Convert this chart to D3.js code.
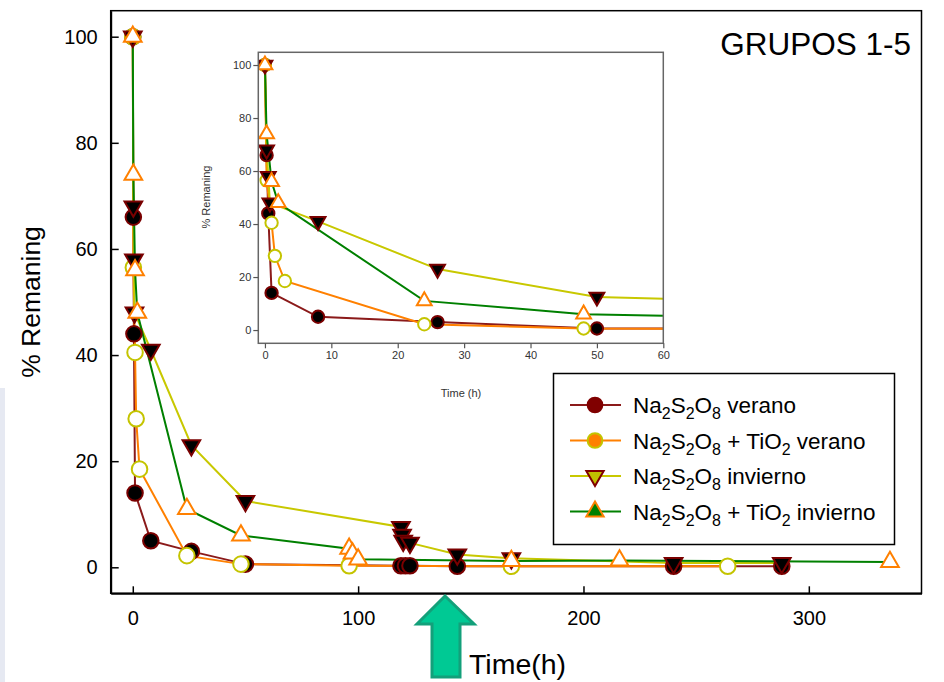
<!DOCTYPE html>
<html>
<head>
<meta charset="utf-8">
<script src="https://cdn.jsdelivr.net/npm/d3@7"></script>
<style>
  body { margin: 0; background: #fff; }
  svg { display: block; font-family: 'Liberation Sans', Arial, sans-serif; }
</style>
</head>
<body>
<script>
// values
const verT = [0, 0.25, 0.5, 1, 8, 26, 50, 119, 121, 123, 144, 240, 288]
const verV = [100, 66, 44, 14, 5, 3, 0.6, 0.3, 0.3, 0.3, 0.2, 0.2, 0.2]
const tioVerT = [0, 0.25, 1, 1.5, 3, 24, 48, 96, 168, 264]
const tioVerV = [100, 56.5, 40.5, 28, 18.5, 2.2, 0.6, 0.3, 0.2, 0.2]
const invT = [0, 0.25, 0.5, 0.75, 8, 26, 50, 119, 119.5, 120, 123, 144, 168, 240, 288]
const invV = [100, 68, 58, 48, 41, 23, 12.5, 7.6, 6.1, 5, 4.6, 2.4, 1.7, 0.8, 0.8]
const tioInvT = [0, 0.25, 1, 2, 24, 48, 96, 97.5, 100, 168, 216, 336]
const tioInvV = [100, 74, 56, 48, 11, 6, 3.5, 2.6, 1.5, 1.2, 1.3, 1.0]

const xTicks = [0, 100, 200, 300]
const yTicks = [0, 20, 40, 60, 80, 100]
const insetXTicks = [0, 10, 20, 30, 40, 50, 60]
const insetYTicks = [0, 20, 40, 60, 80, 100]

const legendLabels = [
  [['Na'], ['2', 1], ['S'], ['2', 1], ['O'], ['8', 1], [' verano']],
  [['Na'], ['2', 1], ['S'], ['2', 1], ['O'], ['8', 1], [' + TiO'], ['2', 1], [' verano']],
  [['Na'], ['2', 1], ['S'], ['2', 1], ['O'], ['8', 1], [' invierno']],
  [['Na'], ['2', 1], ['S'], ['2', 1], ['O'], ['8', 1], [' + TiO'], ['2', 1], [' invierno']]
]

const series = [
  { t: verT, v: verV, line: '#8b1a1a', shape: d3.symbolCircle, rot: 0, fill: '#000', stroke: '#7a0000', lfill: '#800000', lstroke: '#800000' },
  { t: tioVerT, v: tioVerV, line: '#ff8000', shape: d3.symbolCircle, rot: 0, fill: '#fff', stroke: '#c4c400', lfill: '#ff8000', lstroke: '#c4c400' },
  { t: invT, v: invV, line: '#c8c800', shape: d3.symbolTriangle, rot: 180, fill: '#000', stroke: '#7a0000', lfill: '#c0c000', lstroke: '#800000' },
  { t: tioInvT, v: tioInvV, line: '#008000', shape: d3.symbolTriangle, rot: 0, fill: '#fff', stroke: '#ff8000', lfill: '#008000', lstroke: '#ff8000' }
]

const svg = d3.select('body').append('svg')
  .attr('width', 944)
  .attr('height', 682)

svg.append('rect')
  .attr('x', 0).attr('y', 388).attr('width', 5).attr('height', 294)
  .style('fill', '#e6e9f2')

// main chart
const x = d3.scaleLinear().domain([-9.8, 350]).range([110.7, 921.5])
const y = d3.scaleLinear().domain([-4.9, 104.9]).range([593.3, 10.7])

svg.append('rect')
  .attr('x', x.range()[0]).attr('y', y.range()[1])
  .attr('width', x.range()[1] - x.range()[0])
  .attr('height', y.range()[0] - y.range()[1])
  .style('fill', 'none').style('stroke', '#000').style('stroke-width', 1.5)

const yAxis = svg.append('g')
  .attr('transform', `translate(${x.range()[0]}, 0)`)
  .call(d3.axisLeft(y).tickValues(yTicks).tickSize(-8).tickSizeOuter(0).tickPadding(13))
const xAxis = svg.append('g')
  .attr('transform', `translate(0, ${y.range()[0]})`)
  .call(d3.axisBottom(x).tickValues(xTicks).tickSize(-7).tickSizeOuter(0).tickPadding(18))

;[xAxis, yAxis].forEach(a => {
  a.select('.domain').style('stroke', '#000').style('stroke-width', 2)
  a.selectAll('.tick line').style('stroke', '#000').style('stroke-width', 1.5)
  a.selectAll('.tick text').style('font-size', '20px').style('fill', '#000')
    .style('font-family', "'Liberation Sans', Arial, sans-serif")
})

svg.append('text')
  .attr('transform', 'translate(40, 302) rotate(-90)')
  .style('text-anchor', 'middle')
  .style('font-size', '26.5px')
  .text('% Remaning')

svg.append('text')
  .attr('x', 911).attr('y', 55)
  .style('text-anchor', 'end')
  .style('font-size', '31.5px')
  .text('GRUPOS 1-5')

function drawSeries (g, xs, ys, circleSize, triSize, width) {
  series.forEach(s => {
    const pts = s.t.map((t, i) => [t, s.v[i]])
    g.append('path')
      .datum(pts)
      .attr('d', d3.line().x(d => xs(d[0])).y(d => ys(d[1])))
      .style('fill', 'none')
      .style('stroke', s.line)
      .style('stroke-width', width)
  })
  series.forEach(s => {
    const pts = s.t.map((t, i) => [t, s.v[i]])
    const sym = d3.symbol().type(s.shape).size(s.shape === d3.symbolCircle ? circleSize : triSize)
    g.selectAll(null)
      .data(pts)
      .enter().append('path')
      .attr('d', sym)
      .attr('transform', d => `translate(${xs(d[0])}, ${ys(d[1])}) rotate(${s.rot})`)
      .style('fill', s.fill)
      .style('stroke', s.stroke)
      .style('stroke-width', 2)
  })
}

drawSeries(svg.append('g'), x, y, 190, 135, 2)

// legend
const legend = svg.append('g')
legend.append('rect')
  .attr('x', 553.5).attr('y', 373.5).attr('width', 341).attr('height', 171)
  .style('fill', '#fff').style('stroke', '#000').style('stroke-width', 1.5)

const rowY = d3.scalePoint().domain(d3.range(4)).range([405, 511.5])
series.forEach((s, i) => {
  const ry = rowY(i)
  legend.append('line')
    .attr('x1', 570).attr('x2', 621).attr('y1', ry).attr('y2', ry)
    .style('stroke', s.line).style('stroke-width', 2)
  legend.append('path')
    .attr('d', d3.symbol().type(s.shape).size(s.shape === d3.symbolCircle ? 170 : 130))
    .attr('transform', `translate(595, ${ry}) rotate(${s.rot})`)
    .style('fill', s.lfill).style('stroke', s.lstroke).style('stroke-width', 2)
  const txt = legend.append('text')
    .attr('x', 633).attr('y', ry + 8)
    .style('font-size', '22.5px')
  let sub = false
  legendLabels[i].forEach(p => {
    const isSub = !!p[1]
    txt.append('tspan')
      .attr('dy', isSub === sub ? 0 : (isSub ? 6 : -6))
      .style('font-size', isSub ? '16px' : '22.5px')
      .text(p[0])
    sub = isSub
  })
})

// inset
const ix = d3.scaleLinear().domain([-1, 60]).range([258.3, 663.3])
const iy = d3.scaleLinear().domain([-5, 104.8]).range([343.3, 52.3])
const inset = svg.append('g')

svg.append('clipPath').attr('id', 'insetClip')
  .append('rect')
  .attr('x', ix.range()[0]).attr('y', iy.range()[1])
  .attr('width', ix.range()[1] - ix.range()[0])
  .attr('height', iy.range()[0] - iy.range()[1])

inset.append('rect')
  .attr('x', ix.range()[0]).attr('y', iy.range()[1])
  .attr('width', ix.range()[1] - ix.range()[0])
  .attr('height', iy.range()[0] - iy.range()[1])
  .style('fill', '#fff')

drawSeries(inset.append('g').attr('clip-path', 'url(#insetClip)'), ix, iy, 120, 95, 2)

inset.append('rect')
  .attr('x', ix.range()[0]).attr('y', iy.range()[1])
  .attr('width', ix.range()[1] - ix.range()[0])
  .attr('height', iy.range()[0] - iy.range()[1])
  .style('fill', 'none').style('stroke', '#666').style('stroke-width', 1.5)

const iyAxis = inset.append('g')
  .attr('transform', `translate(${ix.range()[0]}, 0)`)
  .call(d3.axisLeft(iy).tickValues(insetYTicks).tickSize(5).tickSizeOuter(0).tickPadding(2))
const ixAxis = inset.append('g')
  .attr('transform', `translate(0, ${iy.range()[0]})`)
  .call(d3.axisBottom(ix).tickValues(insetXTicks).tickSize(5).tickSizeOuter(0).tickPadding(3))

;[ixAxis, iyAxis].forEach(a => {
  a.select('.domain').remove()
  a.selectAll('.tick line').style('stroke', '#555').style('stroke-width', 1.2)
  a.selectAll('.tick text').style('font-size', '11px').style('fill', '#333')
    .style('font-family', "'Liberation Sans', Arial, sans-serif")
})

inset.append('text')
  .attr('transform', 'translate(210, 197) rotate(-90)')
  .style('text-anchor', 'middle')
  .style('font-size', '11px')
  .style('fill', '#333')
  .text('% Remaning')

inset.append('text')
  .attr('x', 461).attr('y', 397)
  .style('text-anchor', 'middle')
  .style('font-size', '11px')
  .style('fill', '#333')
  .text('Time (h)')

// arrow and x label
svg.append('path')
  .attr('d', 'M445,596 L474,624 L460,624 L460,677 L432,677 L432,624 L417,624 Z')
  .style('fill', '#00c994')
  .style('stroke', '#13a07a')
  .style('stroke-width', 3)
  .style('stroke-linejoin', 'miter')

svg.append('text')
  .attr('x', 469).attr('y', 674)
  .style('font-size', '28.5px')
  .text('Time(h)')
</script>
</body>
</html>
